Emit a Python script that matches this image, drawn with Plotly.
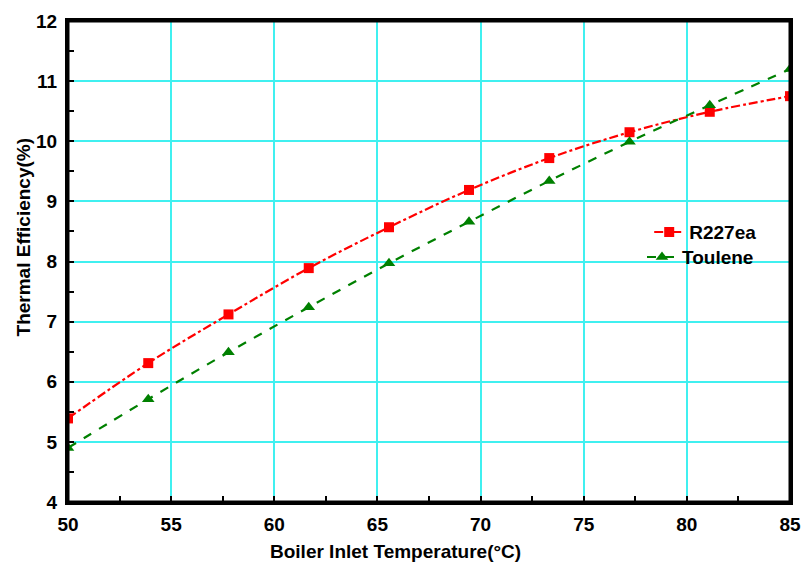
import plotly.graph_objects as go

# Boiler inlet temperature (°C) sample points
temperature = [50.0, 53.89, 57.78, 61.67, 65.56, 69.44, 73.33, 77.22, 81.11, 85.0]

# Thermal efficiency (%) for each working fluid
eff_r227ea = [5.39, 6.31, 7.12, 7.89, 8.57, 9.19, 9.72, 10.15, 10.49, 10.75]
eff_toulene = [4.90, 5.71, 6.49, 7.24, 7.97, 8.66, 9.34, 9.99, 10.60, 11.20]

# Axis tick positions and labels
x_ticks = [50, 55, 60, 65, 70, 75, 80, 85]
y_ticks = [4, 5, 6, 7, 8, 9, 10, 11, 12]

FONT = "Liberation Sans, Arial, sans-serif"
GRID = "#40F0F0"

fig = go.Figure()

fig.add_trace(go.Scatter(
    x=temperature, y=eff_r227ea, name="<b>R227ea</b>",
    mode="lines+markers", legend="legend",
    line=dict(color="#FF0000", width=2.2, dash="dashdot", shape="spline"),
    marker=dict(symbol="square", size=10, color="#FF0000"),
))
fig.add_trace(go.Scatter(
    x=temperature, y=eff_toulene, name="<b>Toulene</b>",
    mode="lines+markers", legend="legend2",
    line=dict(color="#008000", width=2.2, dash="dash", shape="spline"),
    marker=dict(symbol="triangle-up", size=11, color="#008000"),
))

legend_style = dict(
    xanchor="left", yanchor="middle",
    bgcolor="rgba(0,0,0,0)", borderwidth=0,
    font=dict(family=FONT, size=19, color="black"),
    itemwidth=30,
)

fig.update_layout(
    template="none",
    width=803, height=564,
    margin=dict(l=68, r=13, t=21, b=62),
    paper_bgcolor="white", plot_bgcolor="white",
    showlegend=True,
    legend=dict(x=0.805, y=0.561, **legend_style),
    legend2=dict(x=0.795, y=0.509, **legend_style),
    shapes=[dict(
        type="rect", xref="paper", yref="paper", x0=0, y0=0, x1=1, y1=1,
        line=dict(color="black", width=3), layer="above",
    )],
    annotations=[
        dict(text="<b>Boiler Inlet Temperature(°C)</b>", xref="paper", yref="paper",
             x=0.453, y=-0.102, xanchor="center", yanchor="middle", showarrow=False,
             font=dict(family=FONT, size=19, color="black")),
        dict(text="<b>Thermal Efficiency(%)</b>", xref="paper", yref="paper",
             x=-0.061, y=0.552, xanchor="center", yanchor="middle", showarrow=False,
             textangle=-90, font=dict(family=FONT, size=19, color="black")),
    ],
)

fig.update_xaxes(
    range=[50, 85], tickvals=x_ticks, ticktext=[f"<b>{v}</b>" for v in x_ticks],
    showgrid=True, gridcolor=GRID, gridwidth=2,
    showline=True, linecolor="black", linewidth=3, mirror=True,
    ticks="", ticklen=0, ticklabelstandoff=3,
    tickfont=dict(family=FONT, size=19, color="black"),
    minor=dict(ticks="inside", ticklen=6, tickwidth=1.5, tickcolor="black",
               dtick=2.5, tick0=50, showgrid=False),
    zeroline=False,
)
fig.update_yaxes(
    range=[4, 12], tickvals=y_ticks, ticktext=[f"<b>{v}</b>" for v in y_ticks],
    showgrid=True, gridcolor=GRID, gridwidth=2,
    showline=True, linecolor="black", linewidth=3, mirror=True,
    ticks="", ticklen=0, ticklabelstandoff=4,
    tickfont=dict(family=FONT, size=19, color="black"),
    minor=dict(ticks="inside", ticklen=6, tickwidth=1.5, tickcolor="black",
               dtick=0.5, tick0=4, showgrid=False),
    zeroline=False,
)

fig.write_html("out.html")
